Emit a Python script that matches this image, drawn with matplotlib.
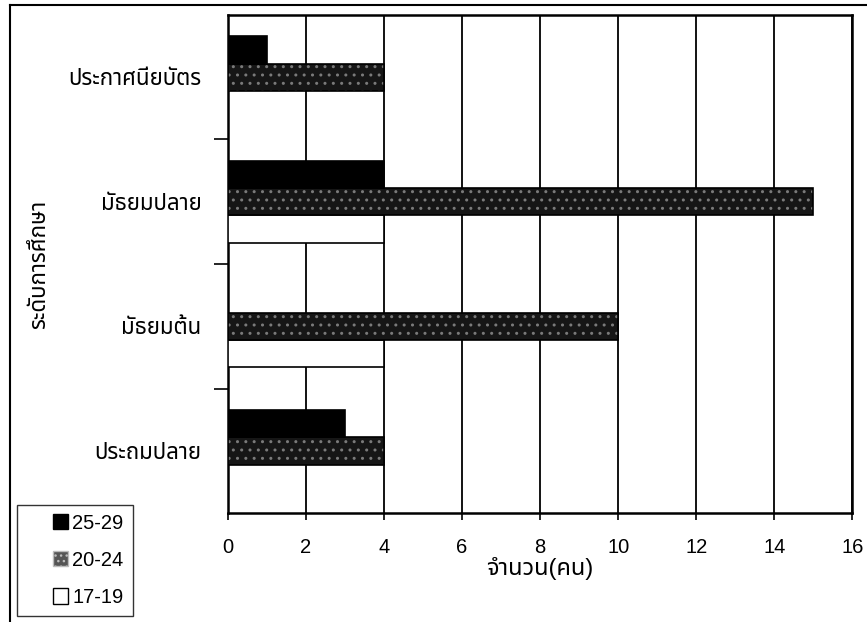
import matplotlib
matplotlib.use("Agg")
import matplotlib.pyplot as plt
import matplotlib.patches as mpatches
from matplotlib.legend_handler import HandlerPatch
from matplotlib.lines import Line2D
import numpy as np

plt.rcParams["font.family"] = ["Liberation Sans", "Noto Sans Thai"]

# ระดับการศึกษา (ล่างขึ้นบน) และจำนวนคนแยกตามช่วงอายุ
levels = ["ประถมปลาย", "มัธยมต้น", "มัธยมปลาย", "ประกาศนียบัตร"]
age_25_29 = [3, 0, 4, 1]
age_20_24 = [4, 10, 15, 4]
age_17_19 = [0, 4, 4, 0]

H = 0.22
y = np.arange(len(levels))

fig = plt.figure(figsize=(8.67, 6.22), dpi=100)
ax = fig.add_axes([0.263, 0.175, 0.72, 0.801])

ax.barh(y - H, age_17_19, height=H, color="white", edgecolor="black",
        linewidth=1.2, zorder=3)
# แถบลายจุด: ชั้นลาย + ชั้นขอบ
ax.barh(y, age_20_24, height=H, color="#161616", edgecolor="#7a7a7a",
        hatch="..", linewidth=0, zorder=3)
ax.barh(y, age_20_24, height=H, fill=False, edgecolor="black",
        linewidth=1.2, zorder=4)
ax.barh(y + H, age_25_29, height=H, color="black", edgecolor="black",
        linewidth=1.2, zorder=3)

ax.set_xlim(0, 16)
ax.set_xticks(range(0, 17, 2))
ax.set_ylim(-0.5, len(levels) - 0.5)
ax.set_yticks(y)
ax.set_yticklabels(levels, fontsize=16)
ax.set_yticks(y[:-1] + 0.5, minor=True)
ax.tick_params(axis="y", which="major", length=0, pad=19)
ax.tick_params(axis="y", which="minor", length=10, width=1.2, direction="out")
ax.tick_params(axis="x", length=5, width=1.2, labelsize=14.5, pad=13)
ax.grid(axis="x", color="black", linewidth=1.3, zorder=1)
for s in ax.spines.values():
    s.set_linewidth(1.8)

ax.set_xlabel("จำนวน(คน)", fontsize=17, labelpad=0)
ax.set_ylabel("ระดับการศึกษา", fontsize=16)
ax.yaxis.set_label_coords(-0.285, 0.5)


def small_square(legend, orig_handle, xdescent, ydescent, width, height, fontsize):
    side = 0.75 * fontsize
    return mpatches.Rectangle((width - side - xdescent, (height - side) / 2 - ydescent),
                              side, side)


handles = [
    mpatches.Patch(facecolor="black", edgecolor="black", label="25-29"),
    mpatches.Patch(facecolor="#555555", edgecolor="#bbbbbb", hatch="...", label="20-24"),
    mpatches.Patch(facecolor="white", edgecolor="black", label="17-19"),
]
leg = fig.legend(handles=handles, loc="lower left",
                 bbox_to_anchor=(0.0196, 0.0096), fontsize=14.5,
                 frameon=True, fancybox=False, edgecolor="black",
                 handlelength=2.1, handleheight=0.8, handletextpad=0.2,
                 labelspacing=0.9, borderpad=0.45, borderaxespad=0,
                 handler_map={mpatches.Patch: HandlerPatch(patch_func=small_square)})
leg.get_frame().set_linewidth(1.0)

# เส้นกรอบนอกด้านบนและด้านซ้าย
fig.add_artist(Line2D([10 / 867, 1], [1 - 5 / 622, 1 - 5 / 622],
                      color="black", linewidth=1.5))
fig.add_artist(Line2D([10 / 867, 10 / 867], [0, 1 - 5 / 622],
                      color="black", linewidth=1.5))

fig.savefig("out.png", dpi=100)
